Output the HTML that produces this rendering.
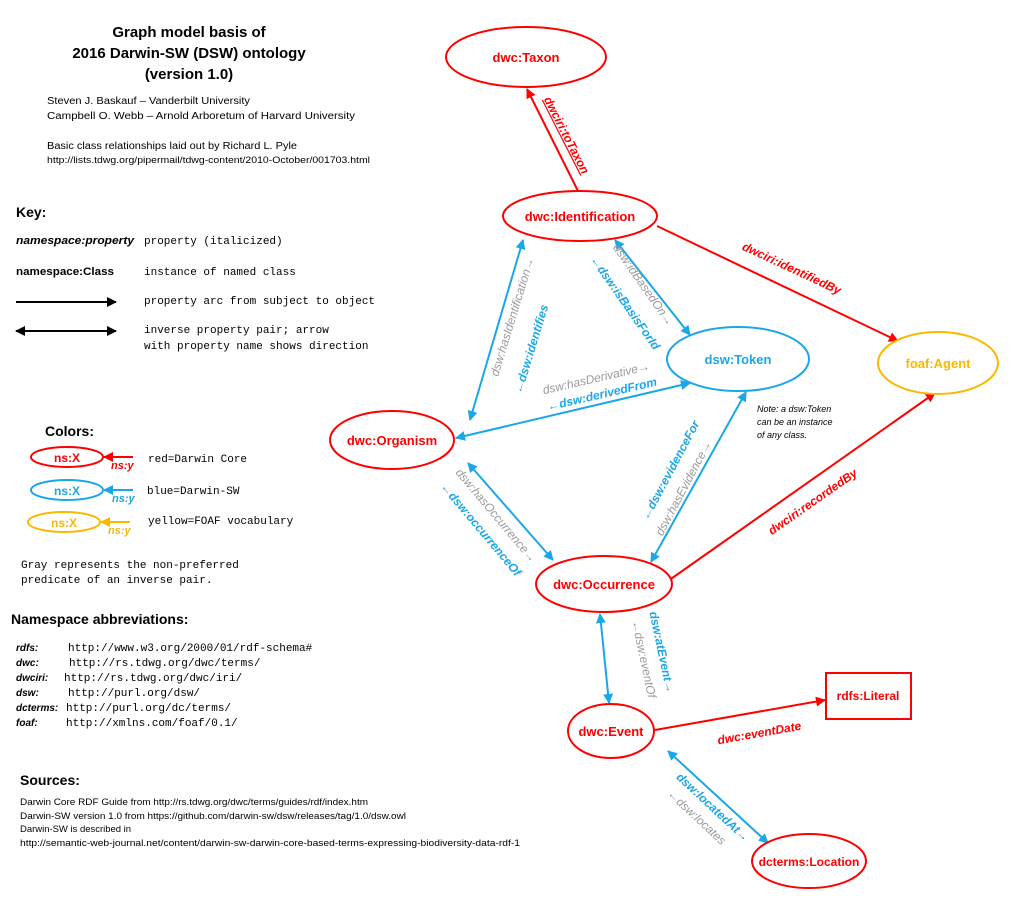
<!DOCTYPE html>
<html><head><meta charset="utf-8"><style>
html,body{margin:0;padding:0;background:#fff;width:1024px;height:924px;overflow:hidden}
svg{display:block}
.s{font-family:"Liberation Sans",sans-serif}
.m{font-family:"Liberation Mono",monospace;font-size:11px}
</style></head><body>
<svg width="1024" height="924" viewBox="0 0 1024 924" xmlns="http://www.w3.org/2000/svg">
<defs>
<marker id="ar" viewBox="0 0 10 10" refX="9" refY="5" markerWidth="5" markerHeight="5" orient="auto-start-reverse"><path d="M0,0L10,5L0,10z" fill="#f00"/></marker>
<marker id="ab" viewBox="0 0 10 10" refX="9" refY="5" markerWidth="5" markerHeight="5" orient="auto-start-reverse"><path d="M0,0L10,5L0,10z" fill="#1aa7e8"/></marker>
<marker id="ak" viewBox="0 0 10 10" refX="9" refY="5" markerWidth="5" markerHeight="5" orient="auto-start-reverse"><path d="M0,0L10,5L0,10z" fill="#000"/></marker>
<marker id="ay" viewBox="0 0 10 10" refX="9" refY="5" markerWidth="5" markerHeight="5" orient="auto-start-reverse"><path d="M0,0L10,5L0,10z" fill="#fbb800"/></marker>
</defs>

<g class="s" fill="#000">
<text x="189" y="37" font-size="15" font-weight="bold" text-anchor="middle">Graph model basis of</text>
<text x="189" y="58" font-size="15" font-weight="bold" text-anchor="middle">2016 Darwin-SW (DSW) ontology</text>
<text x="189" y="79" font-size="15" font-weight="bold" text-anchor="middle">(version 1.0)</text>
<text x="47" y="104" font-size="10" textLength="203" lengthAdjust="spacingAndGlyphs">Steven J. Baskauf – Vanderbilt University</text>
<text x="47" y="119" font-size="10" textLength="308" lengthAdjust="spacingAndGlyphs">Campbell O. Webb – Arnold Arboretum of Harvard University</text>
<text x="47" y="149" font-size="10" textLength="250" lengthAdjust="spacingAndGlyphs">Basic class relationships laid out by Richard L. Pyle</text>
<text x="47" y="163" font-size="9" textLength="323" lengthAdjust="spacingAndGlyphs">http://lists.tdwg.org/pipermail/tdwg-content/2010-October/001703.html</text>
<text x="16" y="217" font-size="14" font-weight="bold">Key:</text>
<text x="16" y="244" font-size="11" font-weight="bold" font-style="italic" textLength="118" lengthAdjust="spacingAndGlyphs">namespace:property</text>
<text x="16" y="275" font-size="11" font-weight="bold" textLength="98" lengthAdjust="spacingAndGlyphs">namespace:Class</text>
</g>
<g class="m" fill="#000">
<text x="144" y="244">property (italicized)</text>
<text x="144" y="275">instance of named class</text>
<text x="144" y="304">property arc from subject to object</text>
<text x="144" y="333">inverse property pair; arrow</text>
<text x="144" y="349">with property name shows direction</text>
</g>
<line x1="16" y1="302" x2="116" y2="302" stroke="#000" stroke-width="2" marker-end="url(#ak)"/>
<line x1="16" y1="331" x2="116" y2="331" stroke="#000" stroke-width="2" marker-start="url(#ak)" marker-end="url(#ak)"/>

<text class="s" x="45" y="436" font-size="14" font-weight="bold">Colors:</text>
<ellipse cx="67" cy="457" rx="36" ry="10" fill="none" stroke="#f00" stroke-width="2"/>
<text class="s" x="67" y="462" font-size="12" font-weight="bold" fill="#f00" text-anchor="middle">ns:X</text>
<line x1="133" y1="457" x2="104" y2="457" stroke="#f00" stroke-width="2" marker-end="url(#ar)"/>
<text class="s" x="111" y="469" font-size="11" font-weight="bold" font-style="italic" fill="#f00">ns:y</text>
<ellipse cx="67" cy="490" rx="36" ry="10" fill="none" stroke="#1aa7e8" stroke-width="2"/>
<text class="s" x="67" y="495" font-size="12" font-weight="bold" fill="#1aa7e8" text-anchor="middle">ns:X</text>
<line x1="133" y1="490" x2="104" y2="490" stroke="#1aa7e8" stroke-width="2" marker-end="url(#ab)"/>
<text class="s" x="112" y="502" font-size="11" font-weight="bold" font-style="italic" fill="#1aa7e8">ns:y</text>
<ellipse cx="64" cy="522" rx="36" ry="10" fill="none" stroke="#fbb800" stroke-width="2"/>
<text class="s" x="64" y="527" font-size="12" font-weight="bold" fill="#fbb800" text-anchor="middle">ns:X</text>
<line x1="130" y1="522" x2="101" y2="522" stroke="#fbb800" stroke-width="2" marker-end="url(#ay)"/>
<text class="s" x="108" y="534" font-size="11" font-weight="bold" font-style="italic" fill="#fbb800">ns:y</text>
<g class="m" fill="#000">
<text x="148" y="462">red=Darwin Core</text>
<text x="147" y="494">blue=Darwin-SW</text>
<text x="148" y="524">yellow=FOAF vocabulary</text>
<text x="21" y="568">Gray represents the non-preferred</text>
<text x="21" y="583">predicate of an inverse pair.</text>
</g>

<text class="s" x="11" y="624" font-size="14" font-weight="bold">Namespace abbreviations:</text>
<g class="s" font-size="10" font-weight="bold" font-style="italic">
<text x="16" y="651">rdfs:</text><text x="16" y="666">dwc:</text><text x="16" y="681">dwciri:</text>
<text x="16" y="696">dsw:</text><text x="16" y="711">dcterms:</text><text x="16" y="726">foaf:</text>
</g>
<g class="m">
<text x="68" y="651">http://www.w3.org/2000/01/rdf-schema#</text>
<text x="69" y="666">http://rs.tdwg.org/dwc/terms/</text>
<text x="64" y="681">http://rs.tdwg.org/dwc/iri/</text>
<text x="68" y="696">http://purl.org/dsw/</text>
<text x="66" y="711">http://purl.org/dc/terms/</text>
<text x="66" y="726">http://xmlns.com/foaf/0.1/</text>
</g>
<text class="s" x="20" y="785" font-size="14" font-weight="bold">Sources:</text>
<g class="s" font-size="9">
<text x="20" y="805" textLength="348" lengthAdjust="spacingAndGlyphs">Darwin Core RDF Guide from http://rs.tdwg.org/dwc/terms/guides/rdf/index.htm</text>
<text x="20" y="819" textLength="386" lengthAdjust="spacingAndGlyphs">Darwin-SW version 1.0 from https://github.com/darwin-sw/dsw/releases/tag/1.0/dsw.owl</text>
<text x="20" y="832" textLength="111" lengthAdjust="spacingAndGlyphs">Darwin-SW is described in</text>
<text x="20" y="846" textLength="500" lengthAdjust="spacingAndGlyphs">http://semantic-web-journal.net/content/darwin-sw-darwin-core-based-terms-expressing-biodiversity-data-rdf-1</text>
</g>

<g stroke="#f00" stroke-width="2" fill="none">
<line x1="578" y1="191" x2="527" y2="89" marker-end="url(#ar)"/>
<line x1="657" y1="226" x2="898" y2="341" marker-end="url(#ar)"/>
<line x1="668" y1="581" x2="935" y2="393" marker-end="url(#ar)"/>
<line x1="655" y1="730" x2="825" y2="700" marker-end="url(#ar)"/>
</g>
<g stroke="#1aa7e8" stroke-width="2" fill="none" marker-start="url(#ab)" marker-end="url(#ab)">
<line x1="523" y1="240" x2="470" y2="420"/>
<line x1="615" y1="240" x2="690" y2="335"/>
<line x1="690" y1="383" x2="456" y2="438"/>
<line x1="468" y1="463" x2="553" y2="560"/>
<line x1="746" y1="392" x2="651" y2="562"/>
<line x1="600" y1="614" x2="609" y2="703"/>
<line x1="668" y1="751" x2="768" y2="843"/>
</g>

<g fill="#fff" stroke-width="2">
<ellipse cx="526" cy="57" rx="80" ry="30" stroke="#f00"/>
<ellipse cx="580" cy="216" rx="77" ry="25" stroke="#f00"/>
<ellipse cx="738" cy="359" rx="71" ry="32" stroke="#1aa7e8"/>
<ellipse cx="938" cy="363" rx="60" ry="31" stroke="#fbb800"/>
<ellipse cx="392" cy="440" rx="62" ry="29" stroke="#f00"/>
<ellipse cx="604" cy="584" rx="68" ry="28" stroke="#f00"/>
<ellipse cx="611" cy="731" rx="43" ry="27" stroke="#f00"/>
<ellipse cx="809" cy="861" rx="57" ry="27" stroke="#f00"/>
<rect x="826" y="673" width="85" height="46" stroke="#f00"/>
</g>
<g class="s" font-size="13" font-weight="bold" text-anchor="middle">
<text x="526" y="62" fill="#f00">dwc:Taxon</text>
<text x="580" y="221" fill="#f00">dwc:Identification</text>
<text x="738" y="364" fill="#1aa7e8">dsw:Token</text>
<text x="938" y="368" fill="#fbb800">foaf:Agent</text>
<text x="392" y="445" fill="#f00">dwc:Organism</text>
<text x="604" y="589" fill="#f00">dwc:Occurrence</text>
<text x="611" y="736" fill="#f00">dwc:Event</text>
<text x="809" y="866" fill="#f00" font-size="12">dcterms:Location</text>
<text x="868" y="700" fill="#f00" font-size="12">rdfs:Literal</text>
</g>
<text class="s" x="757" y="412" font-size="9" font-style="italic">Note: a dsw:Token</text>
<text class="s" x="757" y="425" font-size="9" font-style="italic">can be an instance</text>
<text class="s" x="757" y="438" font-size="9" font-style="italic">of any class.</text>

<g class="s" font-size="12" font-style="italic" font-weight="bold" text-anchor="middle">
<text transform="translate(563,137) rotate(63)" fill="#f00" text-decoration="underline">dwciri:toTaxon</text>
<text transform="translate(790,272) rotate(25)" fill="#f00">dwciri:identifiedBy</text>
<text transform="translate(815,505) rotate(-35)" fill="#f00">dwciri:recordedBy</text>
<text transform="translate(760,737) rotate(-10)" fill="#f00">dwc:eventDate</text>
<text transform="translate(535,350) rotate(-73)" fill="#1aa7e8">←dsw:identifies</text>
<text transform="translate(622,305) rotate(55)" fill="#1aa7e8">←dsw:isBasisForId</text>
<text transform="translate(603,398) rotate(-13)" fill="#1aa7e8">←dsw:derivedFrom</text>
<text transform="translate(478,532) rotate(50)" fill="#1aa7e8">←dsw:occurrenceOf</text>
<text transform="translate(674,472) rotate(-62)" fill="#1aa7e8">←dsw:evidenceFor</text>
<text transform="translate(658,653) rotate(78)" fill="#1aa7e8">dsw:atEvent→</text>
<text transform="translate(710,810) rotate(43)" fill="#1aa7e8">dsw:locatedAt→</text>
</g>
<g class="s" font-size="12" font-style="italic" text-anchor="middle" fill="#9a9a9a">
<text transform="translate(516,318) rotate(-73)">dsw:hasIdentification→</text>
<text transform="translate(640,287) rotate(55)">dsw:idBasedOn→</text>
<text transform="translate(597,382) rotate(-13)">dsw:hasDerivative→</text>
<text transform="translate(493,518) rotate(50)">dsw:hasOccurrence→</text>
<text transform="translate(687,490) rotate(-62)">dsw:hasEvidence→</text>
<text transform="translate(640,660) rotate(78)">←dsw:eventOf</text>
<text transform="translate(694,820) rotate(43)">←dsw:locates</text>
</g>
</svg>
</body></html>
